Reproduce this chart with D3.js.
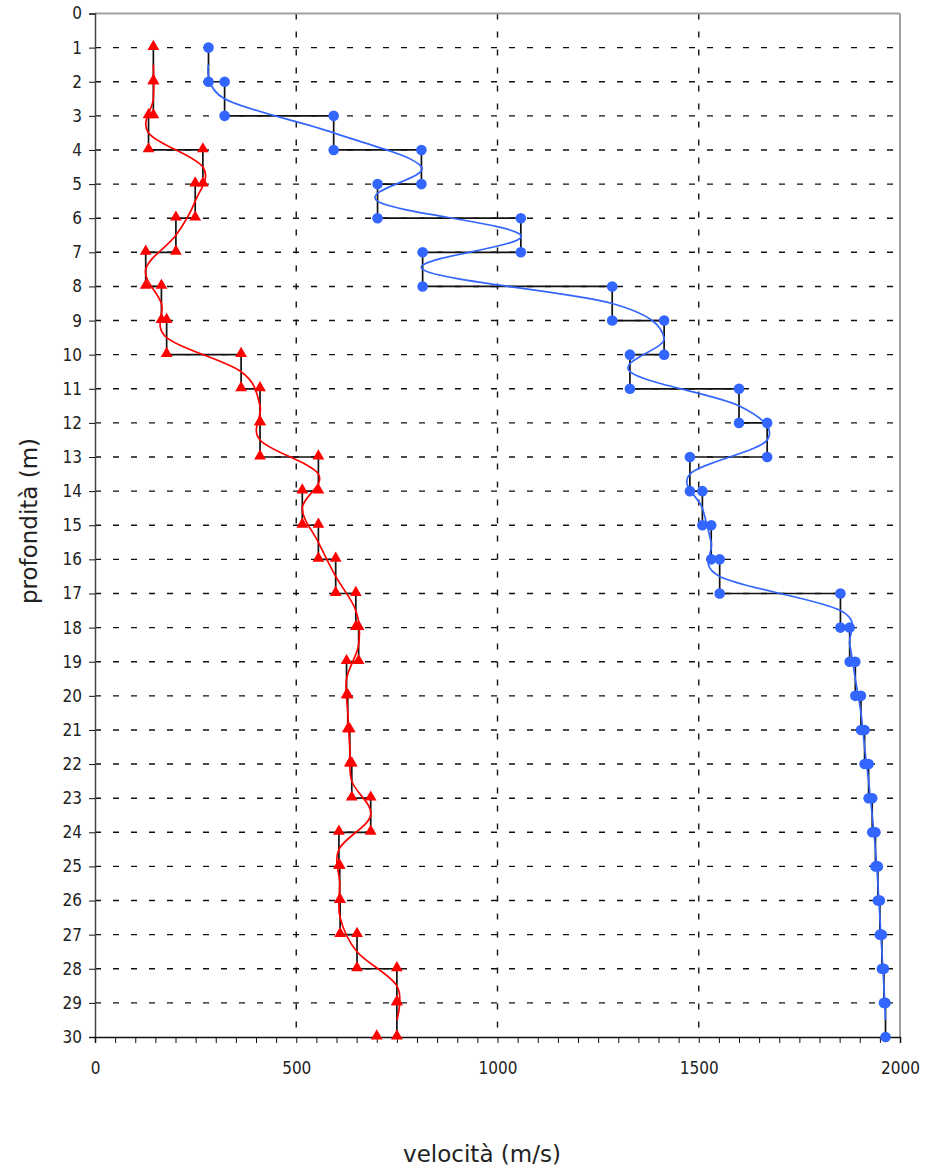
<!DOCTYPE html>
<html>
<head>
<meta charset="utf-8">
<script src="https://cdn.jsdelivr.net/npm/d3@7/dist/d3.min.js"></script>
<style>
body { margin: 0; background: #fff; }
text { font-family: "DejaVu Sans Condensed", "DejaVu Sans", sans-serif; fill: #222; }
</style>
</head>
<body>
<svg id="chart" width="928" height="1170"></svg>
<script>
// layers (depth in m)
var layerTop =    [1,2,3,4,5,6,7,8,9,10,11,12,13,14,15,16,17,18,19,20,21,22,23,24,25,26,27,28,29]
var layerBottom = [2,3,4,5,6,7,8,9,10,11,12,13,14,15,16,17,18,19,20,21,22,23,24,25,26,27,28,29,30]

// velocities (m/s) per layer
var velBlue = [282,322,593,811,702,1058,814,1285,1414,1329,1600,1670,1478,1509,1531,1552,1852,1875,1889,1903,1912,1922,1931,1939,1945,1950,1955,1960,1964]
var velRed  = [145,145,133,268,249,201,126,165,178,363,410,410,555,515,555,598,648,655,625,628,633,638,685,606,608,609,651,750,750]
var redExtra = [{v:700, d:30}]

var yTicks = [0,1,2,3,4,5,6,7,8,9,10,11,12,13,14,15,16,17,18,19,20,21,22,23,24,25,26,27,28,29,30]
var xLabels = [0,500,1000,1500,2000]

var svg = d3.select("#chart")
var pLeft = 95, pRight = 900, pTop = 13.5, pBottom = 1037

var x = d3.scaleLinear().domain([0,2000]).range([pLeft,pRight])
var y = d3.scaleLinear().domain([0,30]).range([pTop,pBottom])

// grid
svg.append("g").selectAll("line").data(yTicks.filter(function(d){return d>0 && d<30})).enter().append("line")
    .attr("x1",pLeft).attr("x2",pRight).attr("y1",function(d){return y(d)}).attr("y2",function(d){return y(d)})
    .attr("stroke","#111").attr("stroke-width",1.4).attr("stroke-dasharray","6,12")
svg.append("g").selectAll("line").data([500,1000,1500]).enter().append("line")
    .attr("y1",pTop).attr("y2",pBottom).attr("x1",function(d){return x(d)}).attr("x2",function(d){return x(d)})
    .attr("stroke","#111").attr("stroke-width",1.4).attr("stroke-dasharray","6,12")

// frame
svg.append("line").attr("x1",pLeft).attr("x2",pRight).attr("y1",pTop).attr("y2",pTop).attr("stroke","#a0a0a0").attr("stroke-width",2)
svg.append("line").attr("x1",pRight).attr("x2",pRight).attr("y1",pTop).attr("y2",pBottom).attr("stroke","#a0a0a0").attr("stroke-width",2)

// axes
var yAxis = d3.axisLeft(y).tickValues(yTicks).tickSize(6).tickPadding(7)
var gy = svg.append("g").attr("transform","translate("+pLeft+",0)").call(yAxis)
gy.attr("font-family",null).attr("font-size",null)
gy.select(".domain").attr("stroke","#444").attr("stroke-width",1.5)
gy.selectAll("text").attr("font-size","17px")

var xAxis = d3.axisBottom(x).tickValues(d3.range(0,2001,50)).tickSize(6).tickPadding(19)
    .tickFormat(function(d){ return xLabels.indexOf(d)>=0 ? d : "" })
var gx = svg.append("g").attr("transform","translate(0,"+pBottom+")").call(xAxis)
gx.attr("font-family",null).attr("font-size",null)
gx.select(".domain").attr("stroke","#111").attr("stroke-width",1.5)
gx.selectAll("text").attr("font-size","17px")
svg.selectAll(".tick line").attr("stroke","#111")

function stepPoints(vel) {
    var pts = []
    vel.forEach(function(v,i){
        pts.push({v:v, d:layerTop[i]})
        pts.push({v:v, d:layerBottom[i]})
    })
    return pts
}
function midPoints(vel) {
    return vel.map(function(v,i){ return {v:v, d:(layerTop[i]+layerBottom[i])/2} })
}

var stepLine = d3.line().x(function(d){return x(d.v)}).y(function(d){return y(d.d)})
var smoothLine = d3.line().x(function(d){return x(d.v)}).y(function(d){return y(d.d)}).curve(d3.curveCardinal.tension(0))

var blueCol = "#3366ff", redCol = "#ff0000"

// step profiles
svg.append("path").datum(stepPoints(velBlue)).attr("d",stepLine).attr("fill","none").attr("stroke","#111").attr("stroke-width",1.7)
svg.append("path").datum(stepPoints(velRed)).attr("d",stepLine).attr("fill","none").attr("stroke","#111").attr("stroke-width",1.7)

// smoothed
svg.append("path").datum(midPoints(velBlue)).attr("d",smoothLine).attr("fill","none").attr("stroke",blueCol).attr("stroke-width",1.7)
svg.append("path").datum(midPoints(velRed)).attr("d",smoothLine).attr("fill","none").attr("stroke",redCol).attr("stroke-width",1.7)

// markers
svg.append("g").selectAll("circle").data(stepPoints(velBlue)).enter().append("circle")
    .attr("cx",function(d){return x(d.v)}).attr("cy",function(d){return y(d.d)}).attr("r",5.3).attr("fill",blueCol)

var tri = d3.symbol().type(d3.symbolTriangle).size(60)
svg.append("g").selectAll("path").data(stepPoints(velRed).concat(redExtra)).enter().append("path")
    .attr("d",tri).attr("transform",function(d){return "translate("+x(d.v)+","+(y(d.d)-1)+")"}).attr("fill",redCol)

// titles
svg.append("text").text("velocità (m/s)").attr("x",482).attr("y",1162).attr("text-anchor","middle").attr("font-size","23px").style("font-family","DejaVu Sans, sans-serif")
svg.append("text").text("profondità (m)").attr("transform","translate(37,521) rotate(-90)").attr("text-anchor","middle").attr("font-size","23px").style("font-family","DejaVu Sans, sans-serif")
</script>
</body>
</html>
